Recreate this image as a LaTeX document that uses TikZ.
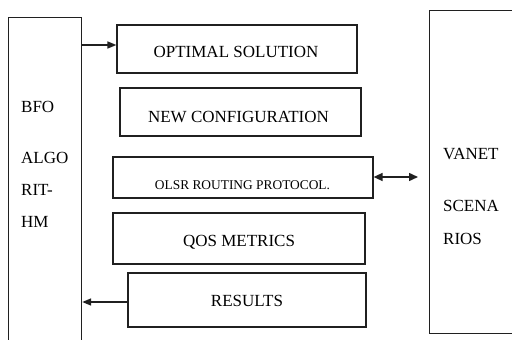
\documentclass[tikz,border=0pt]{standalone}
\usepackage{fontspec}
\setmainfont{Liberation Serif}
\usetikzlibrary{positioning,arrows.meta}
\definecolor{linea}{HTML}{202020}
\tikzset{
  caja/.style={rectangle, draw=linea, line width=1.2pt, inner sep=0pt},
  texto/.style={inner sep=0pt, font=\fontsize{17}{20}\selectfont},
  textochico/.style={inner sep=0pt, font=\fontsize{13.4}{16}\selectfont},
  flecha/.style={-{Triangle[length=9pt,width=7pt]}, line width=1.5pt, draw=linea},
  flechabi/.style={{Triangle[length=9pt,width=8pt]}-{Triangle[length=9pt,width=8pt]}, line width=1.5pt, draw=linea},
}
\begin{document}
\begin{tikzpicture}[x=1pt,y=-1pt]
    \clip (0,0) rectangle (512,340);
    \fill[white] (0,0) rectangle (512,340);
    % side blocks
    \node[caja, anchor=north west, minimum width=73, minimum height=340] (bfo) at (8,17) {};
    \node[caja, anchor=north west, minimum width=100, minimum height=323] (vanet) at (429,10) {};
    \foreach \y/\txt/\nm in {106.5/BFO/b1, 157.5/ALGO/b2, 190/RIT-/b3, 222/HM/b4}{
      \node[texto, anchor=west] (\nm) at (21,\y) {\txt};
    }
    \foreach \y/\txt/\nm in {154.5/VANET/v1, 206/SCENA/v2, 238.5/RIOS/v3}{
      \node[texto, anchor=west] (\nm) at (443,\y) {\txt};
    }
    % middle blocks
    \node[caja, minimum width=240, minimum height=48] (opt) at (237,49) {};
    \node[texto] (optt) at (236,52) {OPTIMAL SOLUTION};
    \node[caja, minimum width=241, minimum height=48] (conf) at (240.5,112) {};
    \node[texto] (conft) at (238.5,117) {NEW CONFIGURATION};
    \node[caja, minimum width=260, minimum height=41] (olsr) at (243,177.5) {};
    \node[textochico] (olsrt) at (242.5,185) {OLSR ROUTING PROTOCOL.};
    \node[caja, minimum width=252, minimum height=51] (qos) at (239,238.5) {};
    \node[texto] (qost) at (239,242) {QOS METRICS};
    \node[caja, minimum width=238, minimum height=54] (res) at (247,300) {};
    \node[texto] (rest) at (247,301) {RESULTS};
    % arrows
    \coordinate (vanetend) at (418,177);
    \draw[flecha] (bfo.east |- 0,45) -- (opt.west |- 0,45);
    \draw[flecha] (res.west |- 0,302) -- (bfo.east |- 0,302);
    \draw[flechabi] (olsr.east |- vanetend) -- (vanetend);
\end{tikzpicture}
\end{document}
